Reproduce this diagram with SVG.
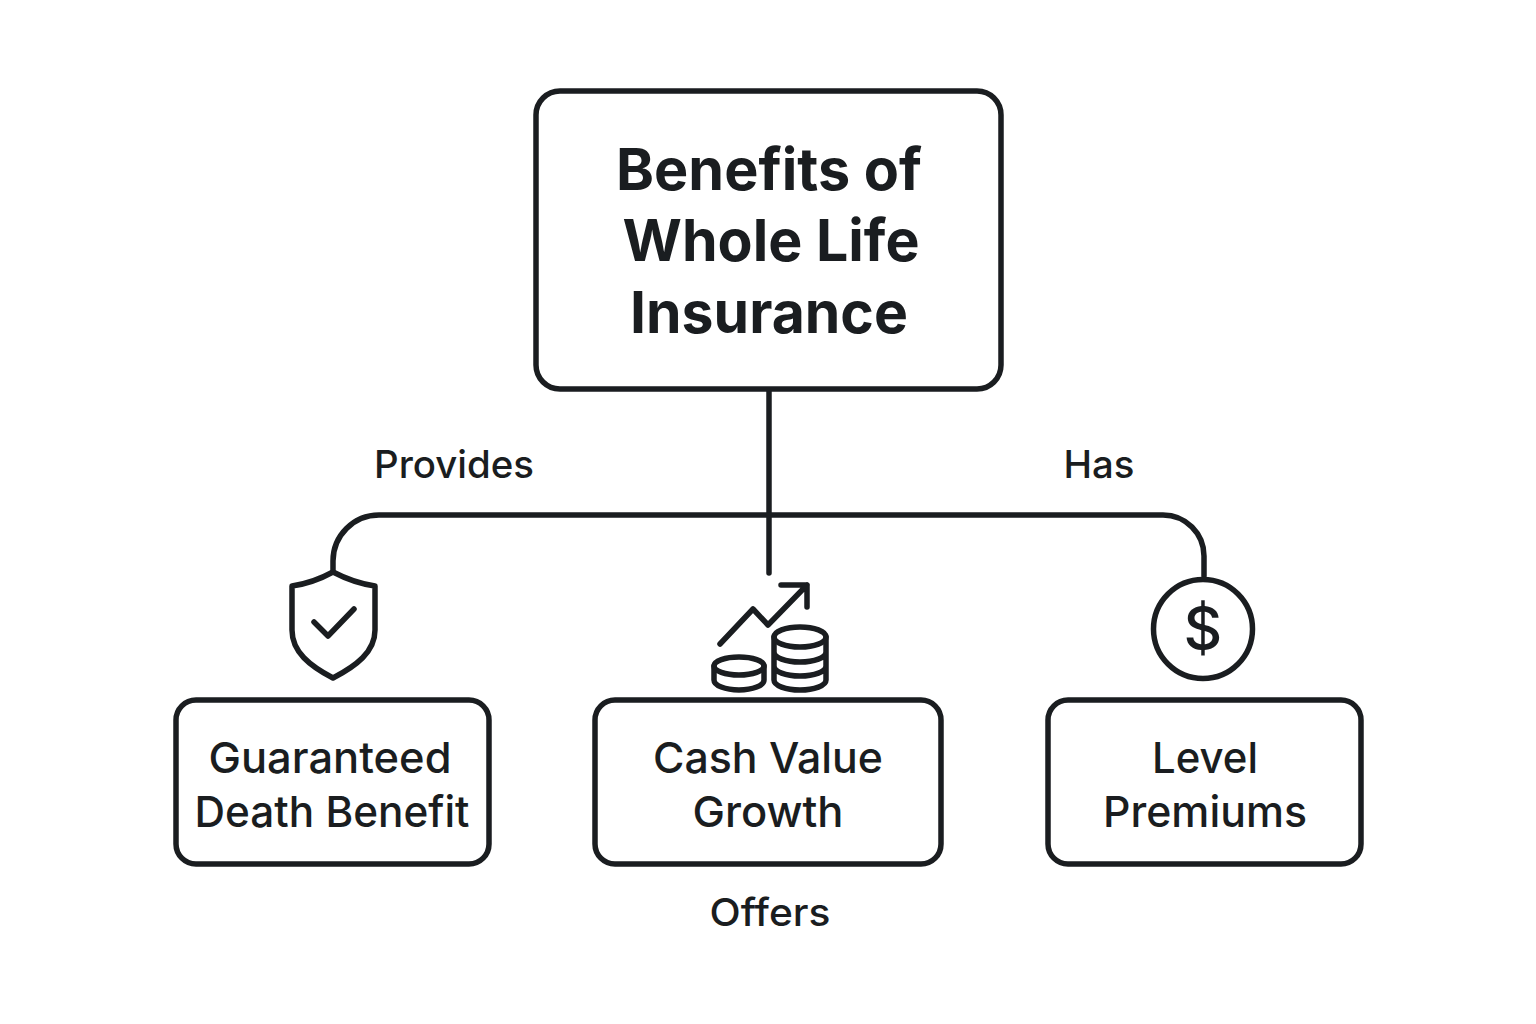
<svg xmlns="http://www.w3.org/2000/svg" width="1536" height="1024" viewBox="0 0 1536 1024">
<style>
.b{fill:#fff;stroke:#1a1d20;stroke-width:5.5}
.c{fill:none;stroke:#1a1d20;stroke-width:5.5;stroke-linecap:round;stroke-linejoin:round}
text{font-family:Inter,"Liberation Sans",sans-serif;fill:#1a1d20;text-anchor:middle}
.t{font-size:58px;font-weight:650}
.n{font-size:43px;font-weight:550}
.l{font-size:38.5px;font-weight:500}
</style>
<rect width="1536" height="1024" fill="#fff"/>
<g id="connectors">
<path class="c" d="M769 390V573"/>
<path class="c" d="M333 570V561A46 46 0 0 1 379 515H1163A41 41 0 0 1 1204 556V576"/>
</g>
<g id="root"><rect class="b" x="536" y="91" width="465" height="298" rx="24"/>
<text class="t" x="769" y="190" textLength="306" lengthAdjust="spacingAndGlyphs">Benefits of</text><text class="t" x="771" y="261" textLength="297" lengthAdjust="spacingAndGlyphs">Whole Life</text><text class="t" x="769" y="333" textLength="278" lengthAdjust="spacingAndGlyphs">Insurance</text></g>
<g id="death"><rect class="b" x="176" y="700" width="313" height="164" rx="20"/>
<text class="n" x="330" y="773" textLength="243" lengthAdjust="spacingAndGlyphs">Guaranteed</text><text class="n" x="332" y="827" textLength="275" lengthAdjust="spacingAndGlyphs">Death Benefit</text></g>
<g id="cash"><rect class="b" x="595" y="700" width="346" height="164" rx="20"/>
<text class="n" x="768" y="773" textLength="230" lengthAdjust="spacingAndGlyphs">Cash Value</text><text class="n" x="768" y="827" textLength="151" lengthAdjust="spacingAndGlyphs">Growth</text></g>
<g id="level"><rect class="b" x="1048" y="700" width="313" height="164" rx="20"/>
<text class="n" x="1205" y="773" textLength="106" lengthAdjust="spacingAndGlyphs">Level</text><text class="n" x="1205" y="827" textLength="204" lengthAdjust="spacingAndGlyphs">Premiums</text></g>
<g id="shield"><path class="c" d="M333 572Q313 583 292 586V630C292 652 310 666 333 678C356 666 375 652 375 630V586Q354 583 333 572Z"/><path class="c" d="M314 622L328 636L354 609"/></g>
<g id="growth"><path class="c" d="M720 644L753 609L768 625L807 585M781 585H807V607"/>
<ellipse class="c" cx="739" cy="666" rx="25" ry="9"/><path class="c" d="M714 666V680A25 10 0 0 0 764 680V666"/>
<ellipse class="c" cx="800" cy="637" rx="26" ry="10"/><path class="c" d="M774 637V680A26 10 0 0 0 826 680V637M774 652A26 10 0 0 0 826 652M774 666A26 10 0 0 0 826 666"/></g>
<g id="dollar"><circle class="c" cx="1203" cy="629" r="49.5"/><text x="1203" y="650" style="font-size:60px;font-weight:500">$</text></g>
<text class="l" x="454" y="478" textLength="160" lengthAdjust="spacingAndGlyphs">Provides</text>
<text class="l" x="1099" y="478" textLength="71" lengthAdjust="spacingAndGlyphs">Has</text>
<text class="l" x="770" y="926" textLength="121" lengthAdjust="spacingAndGlyphs">Offers</text>
</svg>
